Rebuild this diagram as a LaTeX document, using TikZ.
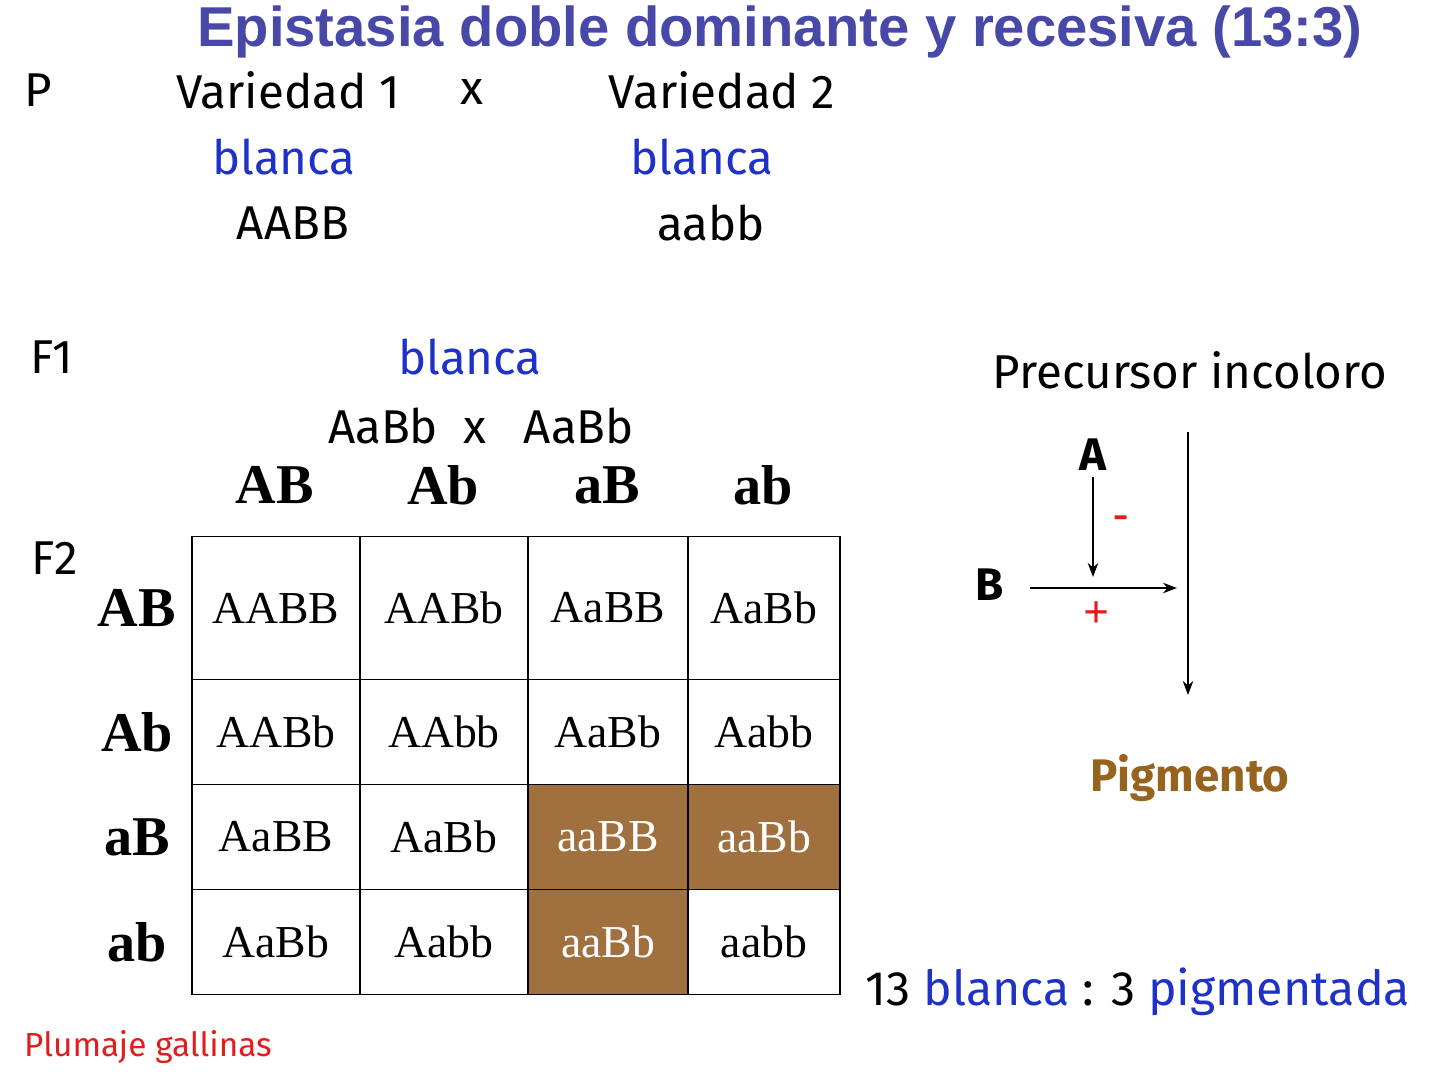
\documentclass[tikz,border=0pt]{standalone}
\usepackage{fontspec}
\setmainfont{Liberation Serif}
\newfontfamily\comic{Fira Sans}
\newfontfamily\titlefont{Liberation Sans}
\usetikzlibrary{arrows.meta}
\definecolor{titleblue}{RGB}{72,72,168}
\definecolor{textblue}{RGB}{30,50,200}
\definecolor{cellbrown}{RGB}{160,112,62}
\definecolor{pigbrown}{RGB}{150,100,30}
\definecolor{redtxt}{RGB}{225,30,30}
\tikzset{lab/.style={font=\comic\fontsize{27}{30}\selectfont},
hdr/.style={font=\bfseries\fontsize{32}{36}\selectfont},
cell/.style={draw,thick,inner sep=0pt,font=\fontsize{26}{30}\selectfont},
arrow/.style={-{Stealth[length=8pt]},thick}}
\begin{document}
\begin{tikzpicture}[x=0.02cm,y=-0.02cm]
\useasboundingbox (0,0) rectangle (1440,1080);
\node[font=\titlefont\bfseries\fontsize{32}{36}\selectfont,text=titleblue] (title) at (780,32) {Epistasia doble dominante y recesiva (13:3)};
\node[lab] (p) at (38,90) {P};
\node[lab] (v1) at (288,90) {Variedad 1};
\node[lab] (x1) at (472,92) {x};
\node[lab] (v2) at (722,90) {Variedad 2};
\node[lab,text=textblue] (b1) at (284,157) {blanca};
\node[lab,text=textblue] (b2) at (702,157) {blanca};
\node[lab] (g1) at (293,223) {AABB};
\node[lab] (g2) at (711,223) {aabb};
\node[lab] (f1) at (52,357) {F1};
\node[lab,text=textblue] (b3) at (470,357) {blanca};
\node[lab] (cross) at (481,426) {AaBb \ x \ \ AaBb};
\node[lab] (f2) at (55,558) {F2};
% gametos
\foreach \g/\x in {AB/275,Ab/443,aB/607,ab/763}
  \node[hdr] (c\g) at (\x,485) {\g};
\foreach \g/\y in {AB/608,Ab/732,aB/837,ab/942}
  \node[hdr] (r\g) at (137,\y) {\g};
% cuadro de Punnett
\foreach \y/\h [count=\i] in {608/143,732/105,837/105,942/105}
  \foreach \x/\w [count=\j] in {276/168,444/168,608/160,764/152}
    \node[cell,minimum width=\w*0.02cm,minimum height=\h*0.02cm] (m\i\j) at (\x,\y) {};
\foreach \i/\j/\t in {1/1/AABB,1/2/AABb,1/3/AaBB,1/4/AaBb,2/1/AABb,2/2/AAbb,2/3/AaBb,2/4/Aabb,3/1/AaBB,3/2/AaBb,4/1/AaBb,4/2/Aabb,4/4/aabb}
  \node[font=\fontsize{26}{30}\selectfont] at (m\i\j) {\t};
\foreach \i/\j/\w/\t in {3/3/160/aaBB,3/4/152/aaBb,4/3/160/aaBb}
  \node[cell,fill=cellbrown,text=white,minimum width=\w*0.02cm,minimum height=105*0.02cm] at (m\i\j) {\t};
% ruta
\node[lab] (prec) at (1190,370) {Precursor incoloro};
\node[lab,font=\comic\bfseries\fontsize{26}{30}\selectfont] (a) at (1093,455) {A};
\node[lab,font=\comic\bfseries\fontsize{26}{30}\selectfont] (b) at (990,585) {B};
\node[lab,font=\comic\bfseries\fontsize{26}{30}\selectfont,text=pigbrown] (pig) at (1190,778) {Pigmento};
\coordinate (top) at (1188,432);
\coordinate (bot) at (1188,695);
\coordinate (ba) at (1093,577);
\coordinate (bs) at (1030,588);
\coordinate (be) at (1177,588);
\draw[arrow] (top) -- (bot);
\draw[arrow] (a.south) -- (ba) node[pos=0.45,right=8pt,text=redtxt,font=\bfseries\fontsize{26}{30}\selectfont] {-};
\draw[arrow] (bs) -- (be) node[pos=0.45,below=4pt,text=redtxt,font=\bfseries\fontsize{26}{30}\selectfont] {+};
\node[lab,font=\comic\fontsize{27.5}{31}\selectfont] (ratio) at (1138,992) {13 \textcolor{textblue}{blanca} : 3 \textcolor{textblue}{pigmentada}};
\node[font=\comic\fontsize{19}{22}\selectfont,text=redtxt] (plum) at (148,1047) {Plumaje gallinas};
\end{tikzpicture}
\end{document}
